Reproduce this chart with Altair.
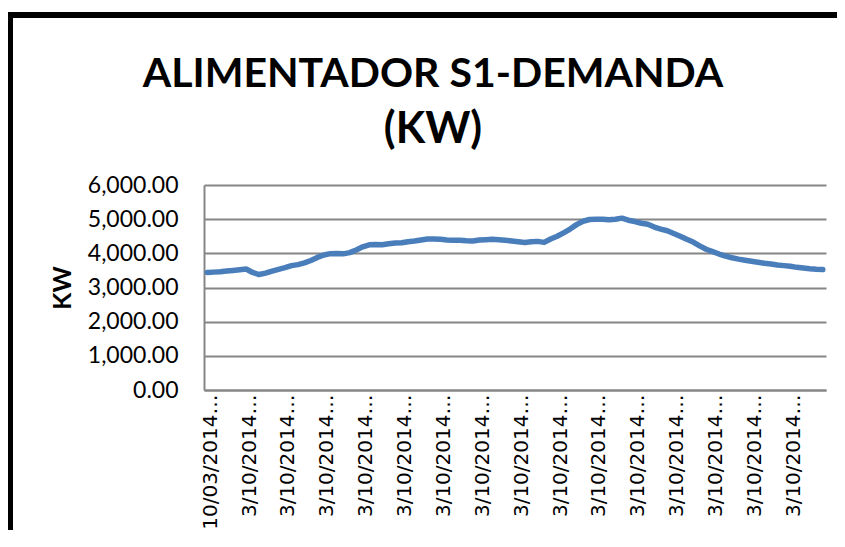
import json
import altair as alt
import pandas as pd

# Demand (kW) for 96 quarter-hour readings
kw_values = [
    3440, 3450, 3460, 3480, 3500, 3520, 3540, 3440, 3380, 3420,
    3480, 3530, 3580, 3640, 3670, 3720, 3790, 3880, 3950, 3990,
    3995, 3985, 4020, 4100, 4190, 4250, 4260, 4250, 4280, 4300,
    4310, 4340, 4360, 4390, 4420, 4420, 4410, 4390, 4380, 4385,
    4370, 4360, 4390, 4400, 4410, 4400, 4380, 4360, 4340, 4320,
    4340, 4350, 4320, 4420, 4500, 4600, 4710, 4840, 4940, 4990,
    5000, 5000, 4980, 5000, 5030, 4970, 4930, 4880, 4850, 4770,
    4710, 4660, 4580, 4500, 4410, 4330, 4220, 4120, 4050, 3980,
    3920, 3870, 3830, 3800, 3770, 3740, 3710, 3690, 3660, 3640,
    3620, 3590, 3570, 3550, 3535, 3525,
]
point_index = list(range(len(kw_values)))

# Category labels shown every 6th reading (truncated as in the original)
tick_positions = list(range(0, 96, 6))
tick_labels = ["10/03/2014…"] + ["3/10/2014…"] * 15
y_ticks = [0, 1000, 2000, 3000, 4000, 5000, 6000]

title_lines = ["ALIMENTADOR S1-DEMANDA", "(KW)"]

df = pd.DataFrame({"idx": point_index, "kw": kw_values})

label_expr = "[" + ",".join(json.dumps(t, ensure_ascii=False) for t in tick_labels) + "][round(datum.value / 6)]"

GRAY = "#868686"

line = alt.Chart(df).mark_line(
    color="#4A7EBB", strokeWidth=5.5, strokeCap="round", strokeJoin="round"
).encode(
    x=alt.X(
        "idx:Q",
        scale=alt.Scale(domain=[-0.5, 95.5], nice=False, zero=False),
        axis=alt.Axis(
            values=tick_positions,
            labelExpr=label_expr,
            labelAngle=270,
            title=None,
            grid=False,
            ticks=False,
            domainColor=GRAY,
            domainWidth=2,
            labelFont="DejaVu Sans",
            labelFontSize=20,
            labelColor="black",
            labelPadding=4,
            labelOffset=3,
            labelFlush=False,
            labelOverlap=False,
            labelLimit=300,
        ),
    ),
    y=alt.Y(
        "kw:Q",
        scale=alt.Scale(domain=[0, 6000], nice=False),
        axis=alt.Axis(
            values=y_ticks,
            format=",.2f",
            title="KW",
            titleFont="Lato",
            titleFontWeight="bold",
            titleFontSize=25,
            titleColor="black",
            titlePadding=12,
            labelFont="Lato",
            labelFontSize=23,
            labelColor="black",
            labelPadding=26,
            ticks=False,
            grid=True,
            gridColor=GRAY,
            gridWidth=2,
            domainColor=GRAY,
            domainWidth=2,
        ),
    ),
)

# Outer chart frame drawn as two filled black strips (top and left)
frame_top = alt.Chart(pd.DataFrame({"f": [0]})).mark_rect(
    color="black", strokeWidth=0
).encode(x=alt.value(-197), x2=alt.value(633), y=alt.value(-173), y2=alt.value(-167))
frame_left = alt.Chart(pd.DataFrame({"f": [0]})).mark_rect(
    color="black", strokeWidth=0
).encode(x=alt.value(-197), x2=alt.value(-191), y=alt.value(-173), y2=alt.value(345))

title1 = alt.Chart(pd.DataFrame({"t": [title_lines[0]]})).mark_text(
    font="Lato", fontSize=41, fontWeight="bold", color="black",
    align="center", baseline="alphabetic"
).encode(text="t:N", x=alt.value(229), y=alt.value(-98))
title2 = alt.Chart(pd.DataFrame({"t": [title_lines[1]]})).mark_text(
    font="Lato", fontSize=43, fontWeight="bold", color="black",
    align="center", baseline="alphabetic"
).encode(text="t:N", x=alt.value(229), y=alt.value(-42))

chart = alt.layer(frame_top, frame_left, line, title1, title2).properties(
    width=622,
    height=205,
    autosize=alt.AutoSizeParams(type="none"),
    padding={"left": 196, "top": 177, "right": 11, "bottom": 145},
    background="white",
).configure_view(strokeWidth=0)

chart.save("out.html", embed_options={"renderer": "svg", "actions": False})
